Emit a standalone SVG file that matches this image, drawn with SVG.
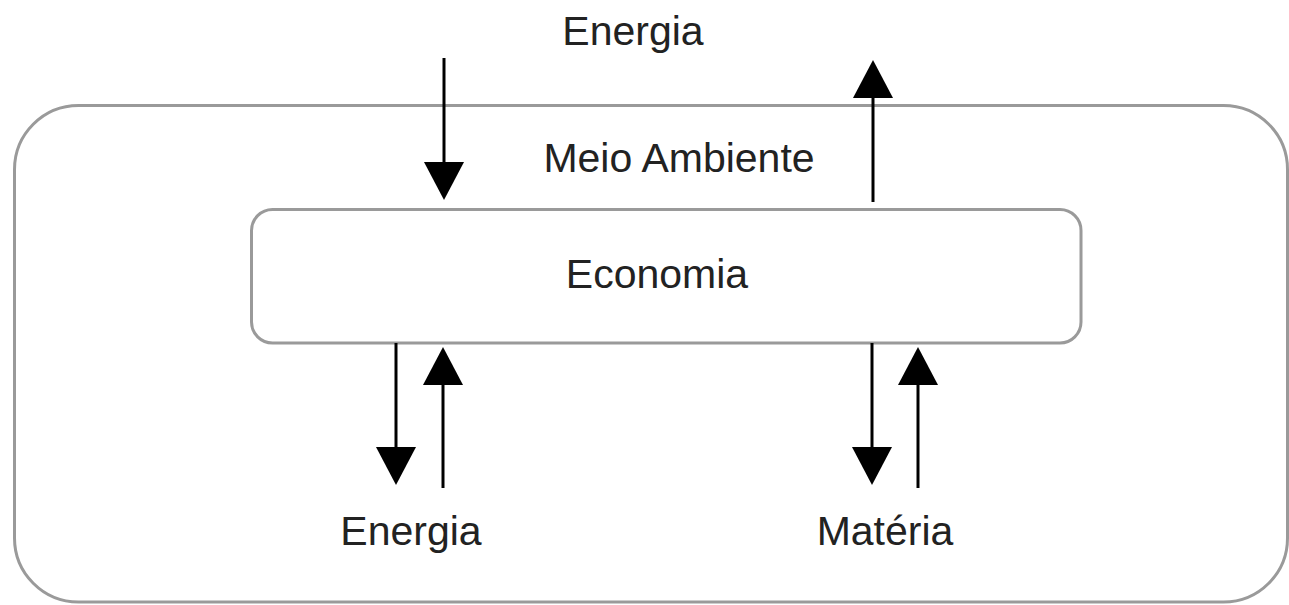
<svg xmlns="http://www.w3.org/2000/svg" width="1289" height="605" viewBox="0 0 1289 605">
  <defs>
    <marker id="arrow" markerUnits="userSpaceOnUse" markerWidth="38" markerHeight="40" refX="4" refY="20" orient="auto" viewBox="0 0 38 40">
      <path d="M0,0 L38,20 L0,40 Z" fill="#000"/>
    </marker>
    <style>
      .box { fill: #fff; stroke: #9a9a9a; stroke-width: 3; }
      .lbl { font-family: "Liberation Sans", Arial, sans-serif; font-size: 41px; fill: #222; text-anchor: middle; }
      .conn { stroke: #000; stroke-width: 3; fill: none; marker-end: url(#arrow); }
    </style>
  </defs>
  <rect x="0" y="0" width="1289" height="605" fill="#fff"/>
  <g id="meio-ambiente">
    <rect class="box" x="14.5" y="105.5" width="1273" height="496.5" rx="64" ry="64"/>
    <text class="lbl" x="679" y="172">Meio Ambiente</text>
  </g>
  <g id="economia">
    <rect class="box" x="251.5" y="209.5" width="829.5" height="133.5" rx="21" ry="21"/>
    <text class="lbl" x="657" y="288">Economia</text>
  </g>
  <g id="energia-top">
    <text class="lbl" x="633" y="45">Energia</text>
  </g>
  <g id="energia-bottom">
    <text class="lbl" x="411" y="545">Energia</text>
  </g>
  <g id="materia">
    <text class="lbl" x="885" y="545">Matéria</text>
  </g>
  <g id="connectors">
    <line class="conn" x1="444" y1="58" x2="444" y2="166"/>
    <line class="conn" x1="873" y1="202" x2="873" y2="94"/>
    <line class="conn" x1="396" y1="343" x2="396" y2="451"/>
    <line class="conn" x1="443" y1="488" x2="443" y2="381"/>
    <line class="conn" x1="872" y1="343" x2="872" y2="451"/>
    <line class="conn" x1="918" y1="488" x2="918" y2="381"/>
  </g>
</svg>
